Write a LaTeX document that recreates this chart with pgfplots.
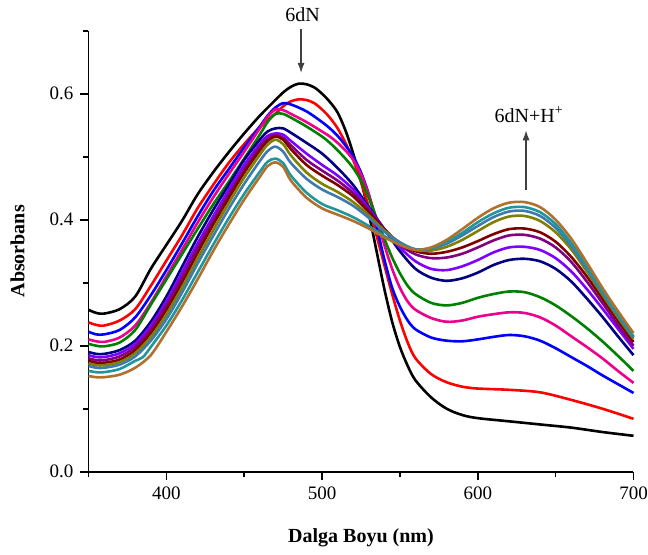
\documentclass[border=0pt]{standalone}
\usepackage{fontspec}
\setmainfont{Liberation Serif}
\usepackage{pgfplots}
\pgfplotsset{compat=1.18}
\usetikzlibrary{arrows.meta}
\definecolor{cnavy}{RGB}{0,0,128}
\definecolor{cviolet}{RGB}{128,0,255}
\definecolor{cpurple}{RGB}{128,0,128}
\definecolor{cmaroon}{RGB}{128,0,0}
\definecolor{colive}{RGB}{128,128,0}
\definecolor{csteel}{RGB}{62,122,176}
\definecolor{cteal}{RGB}{32,150,155}
\definecolor{cbrown}{RGB}{176,112,46}
\definecolor{cgreen}{RGB}{0,128,0}
\begin{document}
\begin{tikzpicture}
\begin{axis}[
  scale only axis, width=272.5pt, height=220.5pt,
  xmin=350, xmax=700, ymin=0, ymax=0.7,
  axis x line*=bottom, axis y line*=left,
  axis line style={line width=0.8pt},
  xtick={400,500,600,700}, ytick={0,0.2,0.4,0.6},
  minor xtick={350,450,550,650}, minor ytick={0.1,0.3,0.5,0.7},
  tick align=outside, major tick length=4pt, minor tick length=2.5pt,
  every tick/.style={black, line width=0.8pt},
  /pgf/number format/assume math mode=true,
  yticklabel style={/pgf/number format/fixed, /pgf/number format/fixed zerofill, /pgf/number format/precision=1},
  xticklabel style={/pgf/number format/1000 sep={}},
  tick label style={font=\fontsize{9.5}{11}\selectfont},
  xlabel={\textbf{Dalga Boyu (nm)}}, ylabel={\textbf{Absorbans}},
  xlabel style={font=\fontsize{10}{12}\selectfont, at={(axis description cs:0.5,-0.15)}, anchor=center},
  ylabel style={font=\fontsize{10}{12}\selectfont, at={(axis description cs:-0.13,0.5)}, anchor=center},
  clip=false,
  every axis plot/.append style={line width=1.3pt, smooth, tension=0.5, no marks},
]
% black
\addplot[black] coordinates {(350,.257)(355,.252)(360,.251)(370,.258)(380,.278)(390,.322)(400,.36)(410,.398)(420,.44)(430,.475)(440,.507)(450,.537)(460,.565)(470,.59)(475,.602)(480,.611)(485,.616)(490,.615)(495,.61)(500,.6)(505,.587)(510,.57)(515,.542)(520,.505)(525,.462)(530,.41)(535,.35)(540,.29)(545,.238)(550,.198)(555,.168)(560,.145)(570,.118)(580,.1)(590,.09)(600,.085)(620,.08)(640,.075)(660,.07)(680,.063)(700,.057)};
% red
\addplot[red] coordinates {(350,.237)(355,.233)(360,.232)(370,.24)(380,.258)(390,.295)(400,.335)(410,.375)(420,.418)(430,.455)(440,.49)(450,.52)(460,.547)(470,.568)(475,.58)(480,.588)(485,.591)(490,.59)(495,.585)(500,.575)(505,.562)(510,.545)(515,.522)(520,.495)(525,.46)(530,.42)(535,.375)(540,.328)(545,.282)(550,.24)(555,.205)(560,.18)(570,.155)(580,.142)(590,.135)(600,.132)(620,.13)(640,.126)(660,.114)(680,.1)(700,.084)};
% blue
\addplot[blue] coordinates {(350,.222)(355,.218)(360,.218)(370,.225)(380,.245)(390,.28)(400,.32)(410,.362)(420,.405)(430,.445)(440,.48)(450,.515)(460,.548)(465,.565)(470,.578)(475,.585)(480,.583)(490,.572)(500,.555)(505,.545)(510,.533)(515,.518)(520,.5)(525,.475)(530,.44)(535,.39)(540,.337)(545,.292)(550,.262)(555,.24)(560,.226)(570,.213)(580,.208)(590,.207)(600,.21)(610,.214)(620,.217)(630,.215)(640,.208)(650,.196)(660,.182)(670,.168)(680,.153)(690,.139)(700,.125)};
% magenta
\addplot[magenta] coordinates {(350,.21)(355,.207)(360,.206)(370,.213)(380,.232)(390,.268)(400,.31)(410,.352)(420,.395)(430,.435)(440,.472)(450,.508)(460,.545)(465,.563)(470,.575)(475,.574)(480,.568)(490,.555)(500,.54)(505,.532)(510,.522)(515,.51)(520,.495)(525,.472)(530,.44)(535,.4)(540,.36)(545,.322)(550,.292)(555,.27)(560,.257)(570,.244)(580,.238)(590,.24)(600,.246)(610,.25)(620,.253)(630,.252)(640,.245)(650,.232)(660,.215)(670,.198)(680,.18)(690,.16)(700,.141)};
% green
\addplot[cgreen] coordinates {(350,.203)(355,.2)(360,.199)(370,.205)(380,.225)(390,.265)(400,.305)(410,.345)(420,.385)(430,.424)(440,.46)(450,.497)(460,.535)(465,.555)(470,.568)(475,.568)(480,.562)(490,.548)(500,.532)(505,.522)(510,.51)(515,.497)(520,.482)(525,.462)(530,.435)(535,.402)(540,.37)(545,.34)(550,.315)(555,.295)(560,.282)(570,.268)(580,.264)(590,.268)(600,.276)(610,.282)(620,.286)(630,.285)(640,.277)(650,.264)(660,.247)(670,.228)(680,.207)(690,.184)(700,.16)};
% navy
\addplot[cnavy] coordinates {(350,.19)(355,.187)(360,.187)(370,.193)(380,.208)(390,.238)(400,.278)(410,.325)(420,.372)(430,.415)(440,.455)(450,.495)(460,.527)(465,.54)(470,.545)(475,.545)(480,.538)(490,.522)(500,.505)(510,.482)(520,.455)(530,.42)(540,.385)(550,.35)(560,.322)(570,.308)(580,.303)(590,.307)(600,.316)(610,.328)(620,.336)(630,.338)(640,.334)(650,.322)(660,.302)(670,.275)(680,.246)(690,.215)(700,.185)};
% violet
\addplot[cviolet] coordinates {(350,.185)(355,.182)(360,.182)(370,.188)(380,.203)(390,.232)(400,.27)(410,.316)(420,.362)(430,.405)(440,.447)(450,.487)(460,.52)(465,.533)(470,.537)(475,.535)(480,.525)(490,.505)(500,.487)(510,.47)(520,.448)(530,.418)(540,.385)(550,.356)(560,.334)(570,.322)(580,.32)(590,.326)(600,.336)(610,.348)(620,.356)(630,.357)(640,.352)(650,.339)(660,.318)(670,.29)(680,.259)(690,.227)(700,.195)};
% purple
\addplot[cpurple] coordinates {(350,.18)(355,.177)(360,.177)(370,.183)(380,.198)(390,.226)(400,.264)(410,.308)(420,.355)(430,.398)(440,.44)(450,.48)(460,.515)(465,.528)(470,.534)(475,.53)(480,.518)(490,.495)(500,.478)(510,.462)(520,.442)(530,.415)(540,.385)(550,.36)(560,.345)(570,.339)(580,.34)(590,.346)(600,.356)(610,.367)(620,.375)(630,.376)(640,.37)(650,.356)(660,.333)(670,.302)(680,.268)(690,.233)(700,.2)};
% maroon
\addplot[cmaroon] coordinates {(350,.176)(355,.173)(360,.173)(370,.178)(380,.193)(390,.22)(400,.257)(410,.3)(420,.347)(430,.392)(440,.434)(450,.475)(460,.51)(465,.525)(470,.532)(475,.527)(480,.512)(490,.487)(500,.47)(510,.455)(520,.437)(530,.412)(540,.385)(550,.362)(560,.35)(570,.346)(580,.349)(590,.356)(600,.366)(610,.377)(620,.385)(630,.386)(640,.38)(650,.365)(660,.341)(670,.31)(680,.275)(690,.24)(700,.206)};
% olive
\addplot[colive] coordinates {(350,.172)(355,.169)(360,.169)(370,.174)(380,.188)(390,.214)(400,.249)(410,.292)(420,.338)(430,.383)(440,.426)(450,.467)(460,.503)(465,.519)(470,.527)(475,.52)(480,.502)(490,.475)(500,.457)(510,.444)(520,.428)(530,.407)(540,.383)(550,.364)(560,.352)(570,.351)(580,.357)(590,.368)(600,.382)(610,.396)(620,.405)(630,.406)(640,.398)(650,.38)(660,.353)(670,.318)(680,.281)(690,.245)(700,.211)};
% steel blue
\addplot[csteel] coordinates {(350,.168)(355,.165)(360,.165)(370,.17)(380,.183)(390,.208)(400,.242)(410,.284)(420,.33)(430,.374)(440,.417)(450,.457)(460,.493)(465,.509)(470,.516)(475,.508)(480,.49)(490,.465)(500,.448)(510,.436)(520,.422)(530,.403)(540,.381)(550,.364)(560,.353)(570,.354)(580,.362)(590,.375)(600,.39)(610,.404)(620,.413)(630,.414)(640,.406)(650,.387)(660,.358)(670,.322)(680,.284)(690,.248)(700,.213)};
% teal
\addplot[cteal] coordinates {(350,.16)(355,.158)(360,.158)(370,.163)(380,.176)(385,.182)(390,.198)(400,.232)(410,.272)(420,.316)(430,.36)(440,.402)(450,.441)(460,.476)(465,.492)(470,.497)(475,.49)(480,.47)(490,.443)(500,.425)(510,.415)(520,.404)(530,.39)(540,.374)(550,.361)(560,.353)(570,.355)(580,.365)(590,.379)(600,.396)(610,.41)(620,.419)(630,.42)(640,.412)(650,.393)(660,.363)(670,.326)(680,.287)(690,.25)(700,.215)};
% brown
\addplot[cbrown] coordinates {(350,.152)(355,.15)(360,.15)(370,.154)(380,.165)(390,.185)(400,.222)(410,.262)(420,.305)(430,.35)(440,.392)(450,.432)(460,.468)(465,.485)(470,.491)(475,.484)(480,.462)(490,.435)(500,.418)(510,.408)(520,.398)(530,.386)(540,.372)(550,.36)(560,.352)(570,.356)(580,.368)(590,.385)(600,.403)(610,.418)(620,.427)(630,.428)(640,.42)(650,.4)(660,.37)(670,.332)(680,.292)(690,.255)(700,.22)};
% annotations
\draw[-{Latex[length=5pt,width=3.5pt]}, line width=0.6pt, black!75] (axis cs:486.5,0.703) -- (axis cs:486.5,0.633);
\node[font=\fontsize{10}{12}\selectfont, anchor=base] at (axis cs:487.5,0.715) {6dN};
\draw[-{Latex[length=5pt,width=3.5pt]}, line width=0.6pt, black!75] (axis cs:631,0.447) -- (axis cs:631,0.542);
\node[font=\fontsize{10}{12}\selectfont, anchor=base] at (axis cs:633,0.555) {6dN+H\textsuperscript{+}};
\end{axis}
\pgfresetboundingbox
\useasboundingbox (-44.25pt,-41.15pt) rectangle (279.75pt,235.85pt);
\end{tikzpicture}
\end{document}
